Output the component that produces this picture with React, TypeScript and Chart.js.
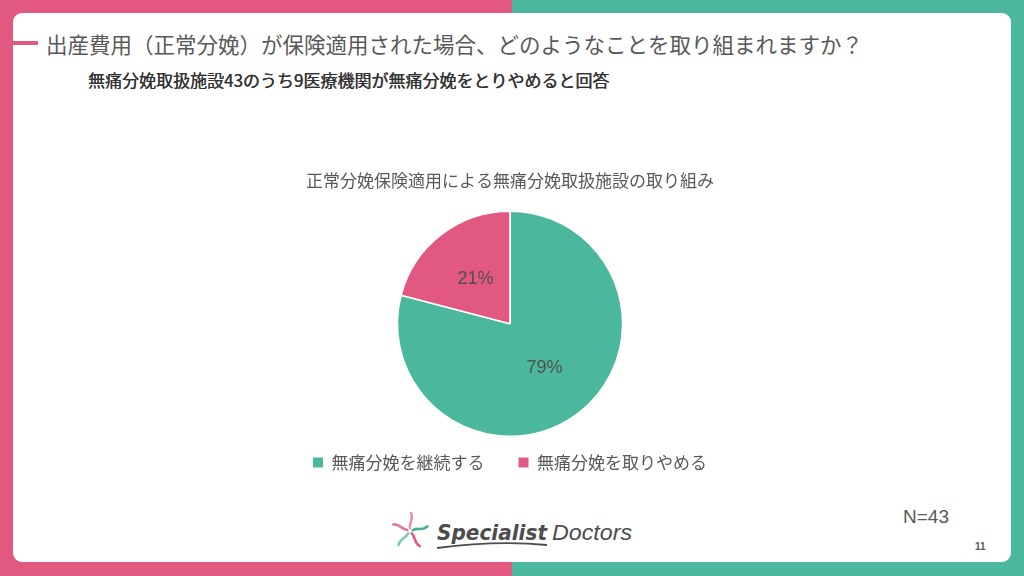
import React, { useEffect, useRef } from "react";
import { Chart, registerables } from "chart.js";

Chart.register(...registerables);

const categories = ["無痛分娩を継続する", "無痛分娩を取りやめる"];
const counts = [34, 9];
const percentLabels = ["79%", "21%"];
const colors = ["#4BB79C", "#E15881"];

const pageTitle = "出産費用（正常分娩）が保険適用された場合、どのようなことを取り組まれますか？";
const pageSubtitle = "無痛分娩取扱施設43のうち9医療機関が無痛分娩をとりやめると回答";
const chartTitle = "正常分娩保険適用による無痛分娩取扱施設の取り組み";
const nLabel = "N=43";
const pageNumber = "11";

const JP = "'Noto Sans CJK JP', 'Noto Sans', sans-serif";

const pieLabels = {
  id: "pieLabels",
  afterDatasetsDraw(chart: any) {
    const ctx = chart.ctx;
    const meta = chart.getDatasetMeta(0);
    ctx.save();
    ctx.font = `18px 'Liberation Sans', 'DejaVu Sans', sans-serif`;
    ctx.fillStyle = "#505050";
    ctx.textAlign = "center";
    ctx.textBaseline = "middle";
    meta.data.forEach((arc: any, i: number) => {
      const p = arc.tooltipPosition();
      ctx.fillText(percentLabels[i], p.x, p.y);
    });
    ctx.restore();
  },
};

function PieChart() {
  const ref = useRef<HTMLCanvasElement>(null);
  useEffect(() => {
    if (!ref.current) return;
    const chart = new Chart(ref.current, {
      type: "pie",
      data: {
        labels: categories,
        datasets: [
          {
            data: counts,
            backgroundColor: colors,
            borderColor: "#ffffff",
            borderWidth: 1.5,
          },
        ],
      },
      options: {
        animation: false,
        responsive: false,
        maintainAspectRatio: false,
        layout: { padding: 0 },
        plugins: {
          title: {
            display: true,
            text: chartTitle,
            color: "#595959",
            font: { family: JP, size: 17, weight: "normal" },
            padding: { top: 0, bottom: 20 },
          },
          legend: {
            display: true,
            position: "bottom",
            labels: {
              color: "#595959",
              font: { family: JP, size: 17 },
              boxWidth: 10,
              boxHeight: 10,
              padding: 17,
              generateLabels(chart: any) {
                return categories.map((c, i) => ({
                  text: i === 0 ? c + "　" : c,
                  fillStyle: colors[i],
                  strokeStyle: colors[i],
                  lineWidth: 0,
                  hidden: false,
                  index: i,
                  fontColor: "#595959",
                }));
              },
            },
          },
          tooltip: { enabled: false },
        },
      },
      plugins: [pieLabels],
    });
    return () => chart.destroy();
  }, []);
  return (
    <canvas
      ref={ref}
      width={500}
      height={311}
      style={{ position: "absolute", left: 260, top: 170, width: 500, height: 311 }}
    />
  );
}

function Logo() {
  const arms = [0, 72, 144, 216, 288];
  const armColors = ["#E892A6", "#3FAF95", "#E15881", "#7CCBB6", "#E27A98"];
  return (
    <svg width="260" height="50" style={{ position: "absolute", left: 385, top: 508 }}>
      <g transform="translate(25,23)" fill="none" strokeWidth="2.6" strokeLinecap="round">
        {arms.map((a, i) => (
          <path key={i} d="M0,-3 C-1,-9 4,-12 1,-18" stroke={armColors[i]} transform={`rotate(${a})`} />
        ))}
      </g>
      <text
        x="52"
        y="32"
        textLength="110"
        lengthAdjust="spacingAndGlyphs"
        fontFamily="'DejaVu Sans', sans-serif"
        fontStyle="italic"
        fontWeight="bold"
        fontSize="22"
        fill="#4d4d4d"
      >
        Specialist
      </text>
      <path d="M52,40 C90,35 130,34 162,37" stroke="#4d4d4d" strokeWidth="1.8" fill="none" />
      <text
        x="167"
        y="32"
        textLength="80"
        lengthAdjust="spacingAndGlyphs"
        fontFamily="'Liberation Sans', sans-serif"
        fontStyle="italic"
        fontSize="22"
        fill="#4d4d4d"
      >
        Doctors
      </text>
    </svg>
  );
}

export default function App() {
  return (
    <div
      style={{
        position: "fixed",
        left: 0,
        top: 0,
        width: 1024,
        height: 576,
        overflow: "hidden",
        background: "linear-gradient(to right, #E15881 0, #E15881 512px, #4BB79C 512px, #4BB79C 100%)",
        fontFamily: JP,
      }}
    >
      <div
        style={{
          position: "absolute",
          left: 13,
          top: 13,
          width: 998,
          height: 549,
          background: "#ffffff",
          borderRadius: 9,
        }}
      />
      <div style={{ position: "absolute", left: 13, top: 41, width: 25, height: 4, background: "#E15881" }} />
      <div
        style={{
          position: "absolute",
          left: 46,
          top: 29,
          fontSize: 21.5,
          lineHeight: "30px",
          color: "#595959",
          whiteSpace: "nowrap",
        }}
      >
        {pageTitle}
      </div>
      <div
        style={{
          position: "absolute",
          left: 88,
          top: 68,
          fontSize: 17,
          lineHeight: "24px",
          color: "#333333",
          whiteSpace: "nowrap",
          textShadow: "0.35px 0 0 #333333",
        }}
      >
        {pageSubtitle}
      </div>
      <PieChart />
      <div
        style={{
          position: "absolute",
          left: 903,
          top: 505,
          fontSize: 19,
          lineHeight: "24px",
          color: "#595959",
          fontFamily: "'Liberation Sans', 'DejaVu Sans', sans-serif",
        }}
      >
        {nLabel}
      </div>
      <div
        style={{
          position: "absolute",
          left: 975,
          top: 540,
          fontSize: 10,
          lineHeight: "14px",
          fontWeight: "bold",
          color: "#595959",
          fontFamily: "'Liberation Sans', sans-serif",
        }}
      >
        {pageNumber}
      </div>
      <Logo />
    </div>
  );
}
